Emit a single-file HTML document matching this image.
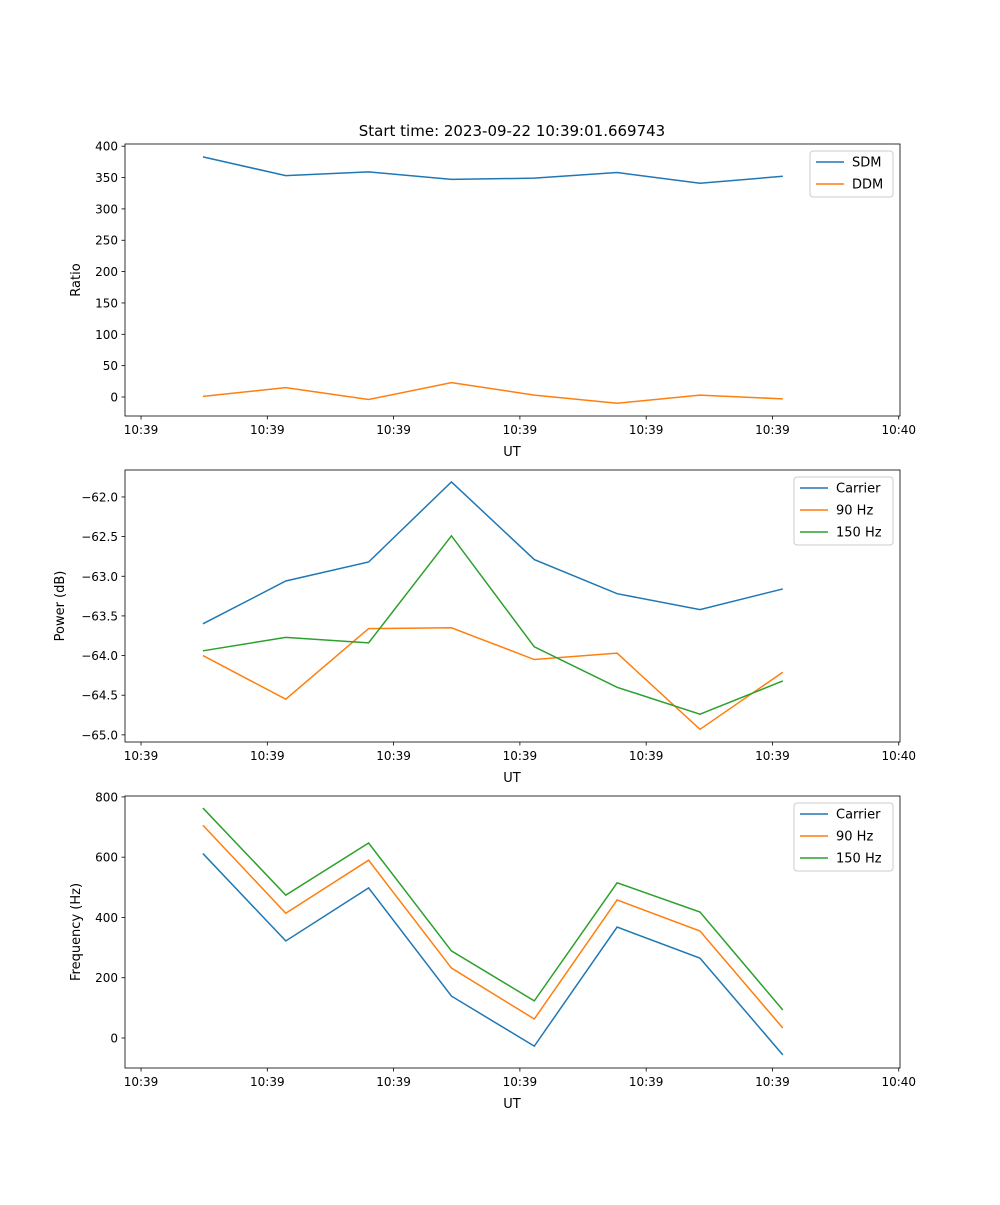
<!DOCTYPE html>
<html><head><meta charset="utf-8"><style>
body{margin:0;background:#fff;font-family:"Liberation Sans","DejaVu Sans",sans-serif}
svg text{font-family:"DejaVu Sans","Liberation Sans",sans-serif}
</style></head><body>
<svg id="fig" width="1000" height="1200" xmlns="http://www.w3.org/2000/svg">
<text x="512" y="136" font-size="15" text-anchor="middle">Start time: 2023-09-22 10:39:01.669743</text>
</svg>
<script>
const times=[4.9,11.46,18.02,24.58,31.14,37.7,44.26,50.82];
const xTickVals=[0,10,20,30,40,50,60];
const xTickLabels=["10:39","10:39","10:39","10:39","10:39","10:39","10:40"];
const sdm=[383,353,359,347,349,358,341,352];
const ddm=[1,15,-4,23,3,-10,3,-3];
const pCarrier=[-63.60,-63.06,-62.82,-61.81,-62.79,-63.22,-63.42,-63.16];
const p90=[-64.00,-64.55,-63.66,-63.65,-64.05,-63.97,-64.93,-64.21];
const p150=[-63.94,-63.77,-63.84,-62.49,-63.89,-64.40,-64.74,-64.32];
const fCarrier=[612,322,498,139,-27,368,265,-56];
const f90=[706,414,590,232,63,458,355,33];
const f150=[763,474,647,289,123,515,418,93];
const yt1=[0,50,100,150,200,250,300,350,400];
const yt2=[-65.0,-64.5,-64.0,-63.5,-63.0,-62.5,-62.0];
const yt3=[0,200,400,600,800];
const C=["#1f77b4","#ff7f0e","#2ca02c"];
const NS="http://www.w3.org/2000/svg";
const svg=document.getElementById('fig');
function mk(t,a,p){const e=document.createElementNS(NS,t);for(const k in a)e.setAttribute(k,a[k]);(p||svg).appendChild(e);return e;}
const L=125,R=900,xmin=-1.27,xmax=60.1;
function X(t){return L+(t-xmin)/(xmax-xmin)*(R-L);}
function panel(name,top,bot,ymin,ymax,yt,fmt,ylabel,series,names,legX,legW){
  const g=mk('g',{});
  
  
  const Y=v=>bot-(v-ymin)/(ymax-ymin)*(bot-top);
  series.forEach((s,i)=>{
    const p=mk('polyline',{points:s.map((v,j)=>X(times[j])+','+Y(v)).join(' '),fill:'none',stroke:C[i],'stroke-width':1.5},g);
    
    
  });
  const fr=mk('rect',{x:L,y:top,width:R-L,height:bot-top,fill:'none',stroke:'#000','stroke-width':0.8},g);
  
  
  xTickVals.forEach((v,i)=>{const x=X(v);mk('line',{x1:x,x2:x,y1:bot,y2:bot+3.5,stroke:'#000','stroke-width':0.8},g);
    const t=mk('text',{x:x,y:bot+18,'font-size':12,'text-anchor':'middle'},g);t.textContent=xTickLabels[i];
    
    });
  yt.forEach(v=>{const y=Y(v);mk('line',{x1:L-3.5,x2:L,y1:y,y2:y,stroke:'#000','stroke-width':0.8},g);
    const t=mk('text',{x:L-7,y:y+4.5,'font-size':12,'text-anchor':'end'},g);t.textContent=fmt(v);
    
    });
  const xl=mk('text',{x:512,y:bot+40,'font-size':13,'text-anchor':'middle'},g);xl.textContent='UT';
  
  
  const cy=(top+bot)/2;
  const yl=mk('text',{x:0,y:0,'font-size':13,'text-anchor':'middle',transform:`translate(${ylabel[1]},${cy}) rotate(-90)`},g);yl.textContent=ylabel[0];
  
  
  const lg=mk('g',{},g);
  
  
  const lh=2+names.length*22;
  mk('rect',{x:legX,y:top+7,width:legW,height:lh,rx:3,fill:'#fff',stroke:'#ccc'},lg);
  names.forEach((n,i)=>{const y=top+18+i*22;
    mk('line',{x1:legX+6,x2:legX+34,y1:y,y2:y,stroke:C[i],'stroke-width':1.5},lg);
    const t=mk('text',{x:legX+42,y:y+4.5,'font-size':13},lg);t.textContent=n;
    
    });
}
panel('ratio-panel',144,416,-30.3,403.5,yt1,v=>String(v),['Ratio',80],[sdm,ddm],['SDM','DDM'],810,83);
panel('power-panel',470,742,-65.09,-61.66,yt2,v=>(v<0?'\u2212':'')+Math.abs(v).toFixed(1),['Power (dB)',64],[pCarrier,p90,p150],['Carrier','90 Hz','150 Hz'],794,99);
panel('frequency-panel',796,1068,-99.6,803,yt3,v=>String(v),['Frequency (Hz)',80],[fCarrier,f90,f150],['Carrier','90 Hz','150 Hz'],794,99);
</script>
</body></html>
